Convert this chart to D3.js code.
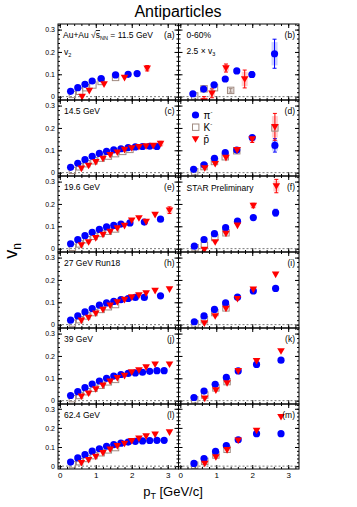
<!DOCTYPE html>
<html>
<head>
<meta charset="utf-8">
<script src="https://cdn.jsdelivr.net/npm/d3@7"></script>
<style>
  body { margin: 0; background: #fff; }
  text { font-family: "Liberation Sans", Arial, sans-serif; }
</style>
</head>
<body>
<div id="chart"></div>
<script>
// ---- data: [pT, value, error] ----
// left column: v2, right column: 2.5 x v3
var v2Pi115 = [[0.3,0.024],[0.5,0.040],[0.7,0.055],[0.9,0.070],[1.15,0.081],[1.55,0.097],[1.9,0.100],[2.15,0.103]];
var v2K115  = [[0.35,0.010],[0.55,0.024],[0.72,0.040],[0.92,0.052],[1.15,0.068],[1.55,0.086]];
var v2Pb115 = [[0.62,0.000],[0.82,0.027],[1.23,0.056],[1.8,0.085],[2.43,0.127,0.012]];
var v3Pi115 = [[0.35,0.013],[0.65,0.034],[0.94,0.053],[1.25,0.079],[1.57,0.115],[1.99,0.099,0.012],[2.62,0.192,0.065]];
var v3K115  = [[0.4,0.003],[0.66,0.035],[0.95,0.040],[1.4,0.028,0.008]];
var v3Pb115 = [[0.66,-0.02,0.02],[0.88,0.015,0.02],[1.27,0.128,0.018],[1.79,0.079,0.04]];

var v2Pi145 = [[0.3,0.024],[0.5,0.042],[0.7,0.058],[0.9,0.073],[1.1,0.086],[1.3,0.095],[1.5,0.102],[1.7,0.107],[1.9,0.112],[2.1,0.115],[2.3,0.117],[2.5,0.118],[2.7,0.117]];
var v2K145  = [[0.35,0.010],[0.55,0.026],[0.75,0.040],[0.95,0.053],[1.15,0.065],[1.35,0.074],[1.55,0.085],[1.75,0.095],[1.95,0.104]];
var v2Pb145 = [[0.6,0.019],[0.8,0.032],[1.0,0.048],[1.2,0.063],[1.4,0.080],[1.6,0.091],[1.8,0.103],[2.0,0.110],[2.2,0.116],[2.4,0.119],[2.6,0.121],[2.8,0.130,0.01]];
var v3Pi145 = [[0.37,0.015],[0.66,0.035],[0.95,0.064],[1.25,0.090],[1.57,0.101],[2.0,0.157],[2.63,0.122,0.03]];
var v3K145  = [[0.4,0.004],[0.66,0.027],[0.95,0.050],[1.25,0.071],[1.57,0.098],[2.63,0.200]];
var v3Pb145 = [[0.68,0.021],[0.97,0.040],[1.27,0.067],[1.58,0.102],[2.0,0.150,0.015],[2.63,0.205,0.06]];

var v2Pi196 = [[0.3,0.022],[0.5,0.040],[0.7,0.058],[0.9,0.073],[1.1,0.086],[1.3,0.097],[1.5,0.104],[1.7,0.110],[1.95,0.115],[2.35,0.119],[2.8,0.132]];
var v2K196  = [[0.35,0.006],[0.55,0.021],[0.75,0.040],[0.95,0.055],[1.15,0.068],[1.35,0.078],[1.55,0.088]];
var v2Pb196 = [[0.6,0.016],[0.8,0.030],[1.0,0.048],[1.2,0.063],[1.4,0.077],[1.6,0.092],[1.8,0.103],[2.0,0.127],[2.2,0.137],[2.4,0.121],[2.65,0.152],[3.05,0.172,0.015]];
var v3Pi196 = [[0.39,0.011],[0.66,0.041],[0.95,0.067],[1.26,0.094],[1.59,0.123],[2.03,0.139],[2.65,0.161,0.015]];
var v3K196  = [[0.41,0.004],[0.67,0.015],[0.96,0.050],[1.27,0.071]];
var v3Pb196 = [[0.67,-0.004],[0.97,0.030],[1.27,0.068],[1.59,0.104],[2.03,0.193,0.01],[2.67,0.28,0.03]];

var v2Pi27 = [[0.3,0.020],[0.5,0.039],[0.7,0.057],[0.9,0.072],[1.1,0.087],[1.3,0.097],[1.5,0.104],[1.7,0.112],[1.9,0.117],[2.1,0.122],[2.35,0.122],[2.8,0.129]];
var v2K27  = [[0.35,0.007],[0.55,0.022],[0.75,0.039],[0.95,0.054],[1.15,0.068],[1.35,0.080],[1.55,0.090]];
var v2Pb27 = [[0.6,0.019],[0.8,0.032],[1.0,0.051],[1.2,0.068],[1.4,0.086],[1.6,0.101],[1.8,0.112],[2.0,0.123],[2.2,0.132],[2.4,0.141],[2.65,0.152],[3.05,0.159]];
var v3Pi27 = [[0.39,0.013],[0.66,0.039],[0.95,0.068],[1.26,0.097],[1.59,0.123],[2.03,0.151],[2.65,0.162]];
var v3K27  = [[0.41,0.003],[0.67,0.022],[0.96,0.054],[1.27,0.075]];
var v3Pb27 = [[0.67,0.007],[0.97,0.039],[1.27,0.072],[1.59,0.116],[2.03,0.158],[2.65,0.225]];

var v2Pi39 = [[0.3,0.023],[0.5,0.040],[0.7,0.058],[0.9,0.074],[1.1,0.088],[1.3,0.100],[1.5,0.110],[1.7,0.117],[1.9,0.122],[2.1,0.124],[2.3,0.127],[2.5,0.131],[2.7,0.134],[2.9,0.134]];
var v2K39  = [[0.35,0.009],[0.55,0.023],[0.75,0.040],[0.95,0.055],[1.15,0.069],[1.35,0.084],[1.55,0.095]];
var v2Pb39 = [[0.6,0.020],[0.8,0.033],[1.0,0.052],[1.2,0.069],[1.4,0.087],[1.6,0.102],[1.8,0.112],[2.0,0.128],[2.2,0.137],[2.4,0.150],[2.65,0.163],[3.05,0.163]];
var v3Pi39 = [[0.38,0.014],[0.66,0.043],[0.97,0.073],[1.28,0.104],[1.61,0.133],[2.12,0.162],[2.8,0.181]];
var v3K39  = [[0.40,0.004],[0.68,0.025],[0.99,0.057],[1.30,0.085]];
var v3Pb39 = [[0.68,0.010],[0.99,0.047],[1.30,0.079],[1.61,0.133],[2.12,0.178],[2.8,0.222]];

var v2Pi624 = [[0.3,0.021],[0.5,0.043],[0.7,0.060],[0.9,0.078],[1.1,0.091],[1.3,0.104],[1.5,0.113],[1.7,0.120],[1.9,0.126],[2.1,0.130],[2.3,0.132],[2.5,0.134],[2.7,0.135],[2.9,0.135]];
var v2K624  = [[0.35,0.008],[0.55,0.023],[0.75,0.040],[0.95,0.055],[1.15,0.070],[1.35,0.085],[1.55,0.097]];
var v2Pb624 = [[0.6,0.018],[0.8,0.033],[1.0,0.050],[1.2,0.070],[1.4,0.088],[1.6,0.106],[1.8,0.118],[2.0,0.133],[2.2,0.145],[2.4,0.157],[2.65,0.166],[3.05,0.178]];
var v3Pi624 = [[0.38,0.014],[0.66,0.040],[0.98,0.077],[1.28,0.108],[1.61,0.138],[2.12,0.170],[2.8,0.170]];
var v3K624  = [[0.40,0.005],[0.68,0.025],[0.99,0.058],[1.30,0.088]];
var v3Pb624 = [[0.68,0.014],[0.99,0.048],[1.30,0.085],[1.61,0.135],[2.12,0.186],[2.8,0.258]];

var energyLabels = ["11.5 GeV", "14.5 GeV", "19.6 GeV", "27 GeV Run18", "39 GeV", "62.4 GeV"];
var leftTags  = ["(a)", "(c)", "(e)", "(h)", "(j)", "(l)"];
var rightTags = ["(b)", "(d)", "(f)", "(i)", "(k)", "(m)"];
var yTicks = [0, 0.1, 0.2, 0.3];
var xTicks = [0, 1, 2, 3];

var leftData  = [[v2Pi115, v2K115, v2Pb115], [v2Pi145, v2K145, v2Pb145], [v2Pi196, v2K196, v2Pb196],
                 [v2Pi27, v2K27, v2Pb27], [v2Pi39, v2K39, v2Pb39], [v2Pi624, v2K624, v2Pb624]];
var rightData = [[v3Pi115, v3K115, v3Pb115], [v3Pi145, v3K145, v3Pb145], [v3Pi196, v3K196, v3Pb196],
                 [v3Pi27, v3K27, v3Pb27], [v3Pi39, v3K39, v3Pb39], [v3Pi624, v3K624, v3Pb624]];

// ---- layout ----
var svgWidth = 357, svgHeight = 507;
var x0 = 58, colW = 120.5;
var rowTop = [24, 100, 176, 252, 328, 404];
var rowH = [76, 76, 76, 76, 76, 65];

var blue = "#0000ff", red = "#ff0000", kCol = "#a08a80";
var fs = 8.5;

var svg = d3.select("#chart").append("svg")
  .attr("width", svgWidth)
  .attr("height", svgHeight);

var xScale = d3.scaleLinear().domain([-0.05, 3.3]).range([0, colW]);

var triPath = "M-3.8,-2.8L3.8,-2.8L0,3.8Z";

function drawPanel(col, row, series) {
  var px = x0 + col * colW, py = rowTop[row], h = rowH[row];
  var yScale = d3.scaleLinear().domain([-0.015, 0.325]).range([h, 0]);
  var g = svg.append("g").attr("transform", `translate(${px}, ${py})`);
  var clipId = "clip" + col + "_" + row;
  g.append("clipPath").attr("id", clipId)
    .append("rect").attr("width", colW).attr("height", h);

  // axes (inward ticks on all sides)
  var minorX = d3.range(0, 3.3, 0.2), minorY = d3.range(0, 0.33, 0.02);
  function addAxis(axisFn, scale, vals, size, tx, labels, labelSize) {
    var ax = axisFn(scale).tickValues(vals).tickSizeInner(-size).tickSizeOuter(0).tickPadding(3);
    if (!labels) ax.tickFormat("");
    else ax.tickFormat(d => d === 0 ? "0" : (scale === yScale ? d3.format(".1f")(d) : d));
    var a = g.append("g").attr("transform", tx).call(ax);
    a.select(".domain").remove();
    a.selectAll("text").attr("font-size", labelSize || fs).attr("fill", "#000");
    a.selectAll("line").attr("stroke", "#000");
  }
  addAxis(d3.axisLeft, yScale, yTicks, 4, "translate(0,0)", col === 0, 7);
  addAxis(d3.axisLeft, yScale, minorY, 2, "translate(0,0)", false);
  addAxis(d3.axisRight, yScale, yTicks, 4, `translate(${colW},0)`, false);
  addAxis(d3.axisRight, yScale, minorY, 2, `translate(${colW},0)`, false);
  addAxis(d3.axisBottom, xScale, xTicks, 4, `translate(0,${h})`, row === 5, 8);
  addAxis(d3.axisBottom, xScale, minorX, 2, `translate(0,${h})`, false);
  addAxis(d3.axisTop, xScale, xTicks, 4, "translate(0,0)", false);
  addAxis(d3.axisTop, xScale, minorX, 2, "translate(0,0)", false);

  // zero line
  g.append("line")
    .attr("x1", 0).attr("x2", colW)
    .attr("y1", yScale(0)).attr("y2", yScale(0))
    .attr("stroke", "#777").attr("stroke-dasharray", "2,2").attr("stroke-width", 1);

  var plot = g.append("g").attr("clip-path", `url(#${clipId})`);
  var pi = series[0], k = series[1], pb = series[2];

  function errBars(data, color, fill) {
    var withErr = data.filter(d => d[2]);
    plot.selectAll(null).data(withErr).enter().append("rect")
      .attr("x", d => xScale(d[0]) - 3)
      .attr("width", 6)
      .attr("y", d => yScale(d[1] + d[2] * 0.8))
      .attr("height", d => yScale(d[1] - d[2] * 0.8) - yScale(d[1] + d[2] * 0.8))
      .attr("fill", fill).attr("opacity", 0.6);
    plot.selectAll(null).data(withErr).enter().append("line")
      .attr("x1", d => xScale(d[0])).attr("x2", d => xScale(d[0]))
      .attr("y1", d => yScale(d[1] + d[2])).attr("y2", d => yScale(d[1] - d[2]))
      .attr("stroke", color).attr("stroke-width", 1);
    plot.selectAll(null).data(withErr).enter().append("path")
      .attr("d", d => {
        var x = xScale(d[0]), y1 = yScale(d[1] + d[2]), y2 = yScale(d[1] - d[2]);
        return `M${x - 2},${y1}H${x + 2}M${x - 2},${y2}H${x + 2}`;
      })
      .attr("stroke", color).attr("stroke-width", 1);
  }
  errBars(k, kCol, "#d9ccc6");
  errBars(pi, blue, "#aab0ff");
  errBars(pb, red, "#ffb0b0");

  // kaons: open squares
  plot.selectAll(null).data(k).enter().append("rect")
    .attr("x", d => xScale(d[0]) - 3.2)
    .attr("y", d => yScale(d[1]) - 3.2)
    .attr("width", 6.4).attr("height", 6.4)
    .attr("fill", "none").attr("stroke", kCol).attr("stroke-width", 1);

  // pions: filled circles
  plot.selectAll(null).data(pi).enter().append("circle")
    .attr("cx", d => xScale(d[0]))
    .attr("cy", d => yScale(d[1]))
    .attr("r", 3.6)
    .attr("fill", blue);

  // antiprotons: downward triangles
  plot.selectAll(null).data(pb).enter().append("path")
    .attr("transform", d => `translate(${xScale(d[0])},${yScale(d[1])})`)
    .attr("d", triPath)
    .attr("fill", red);

  // frame
  g.append("rect").attr("width", colW).attr("height", h)
    .attr("fill", "none").attr("stroke", "#000").attr("stroke-width", 1);

  return g;
}

var panels = [];
for (var r = 0; r < 6; r++) {
  var gl = drawPanel(0, r, leftData[r]);
  var gr = drawPanel(1, r, rightData[r]);
  panels.push([gl, gr]);

  gl.append("text").attr("x", colW - 4).attr("y", 14)
    .attr("text-anchor", "end").attr("font-size", fs).text(leftTags[r]);
  gr.append("text").attr("x", colW - 4).attr("y", 14)
    .attr("text-anchor", "end").attr("font-size", fs).text(rightTags[r]);
  if (r > 0) {
    gl.append("text").attr("x", 6).attr("y", 14).attr("font-size", fs).text(energyLabels[r]);
  }
}

// row 1 labels
var t = panels[0][0].append("text").attr("x", 5).attr("y", 14).attr("font-size", fs);
t.append("tspan").text("Au+Au \u221A");
t.append("tspan").attr("text-decoration", "overline").text("s");
t.append("tspan").attr("font-size", 5.5).attr("dy", 2).text("NN");
t.append("tspan").attr("dy", -2).text(" = " + energyLabels[0]);

var t2 = panels[0][0].append("text").attr("x", 6).attr("y", 31).attr("font-size", fs);
t2.append("tspan").text("v");
t2.append("tspan").attr("font-size", 5.5).attr("dy", 2).text("2");

panels[0][1].append("text").attr("x", 8).attr("y", 14).attr("font-size", fs).text("0-60%");
var t3 = panels[0][1].append("text").attr("x", 8).attr("y", 30).attr("font-size", fs);
t3.append("tspan").text("2.5 \u00D7 v");
t3.append("tspan").attr("font-size", 5.5).attr("dy", 2).text("3");

panels[2][1].append("text").attr("x", 8).attr("y", 15).attr("font-size", fs).text("STAR Preliminary");

// legend in (d)
var leg = panels[1][1];
var legItems = [["\u03C0", "-"], ["K", "-"], ["p\u0304", ""]];
legItems.forEach(function(item, i) {
  var ly = 15 + i * 12;
  if (i === 0) leg.append("circle").attr("cx", 17).attr("cy", ly).attr("r", 3.6).attr("fill", blue);
  if (i === 1) leg.append("rect").attr("x", 14).attr("y", ly - 3).attr("width", 6.4).attr("height", 6.4)
    .attr("fill", "none").attr("stroke", kCol);
  if (i === 2) leg.append("path").attr("transform", `translate(17,${ly})`).attr("d", triPath).attr("fill", red);
  var lt = leg.append("text").attr("x", 25).attr("y", ly + 4).attr("font-size", 10);
  lt.append("tspan").text(item[0]);
  if (item[1]) lt.append("tspan").attr("font-size", 6).attr("dy", -5).text(item[1]);
});

// title and axis titles
svg.append("text").attr("x", 178).attr("y", 17)
  .attr("text-anchor", "middle").attr("font-size", 16).text("Antiparticles");

var xt = svg.append("text").attr("x", 173).attr("y", 496)
  .attr("text-anchor", "middle").attr("font-size", 13);
xt.append("tspan").text("p");
xt.append("tspan").attr("font-size", 9).attr("dy", 3).text("T");
xt.append("tspan").attr("dy", -3).text(" [GeV/c]");

var yt = svg.append("text")
  .attr("transform", "translate(17, 251) rotate(-90)")
  .attr("text-anchor", "middle").attr("font-size", 18);
yt.append("tspan").text("v");
yt.append("tspan").attr("font-size", 12).attr("dy", 4).text("n");
</script>
</body>
</html>
